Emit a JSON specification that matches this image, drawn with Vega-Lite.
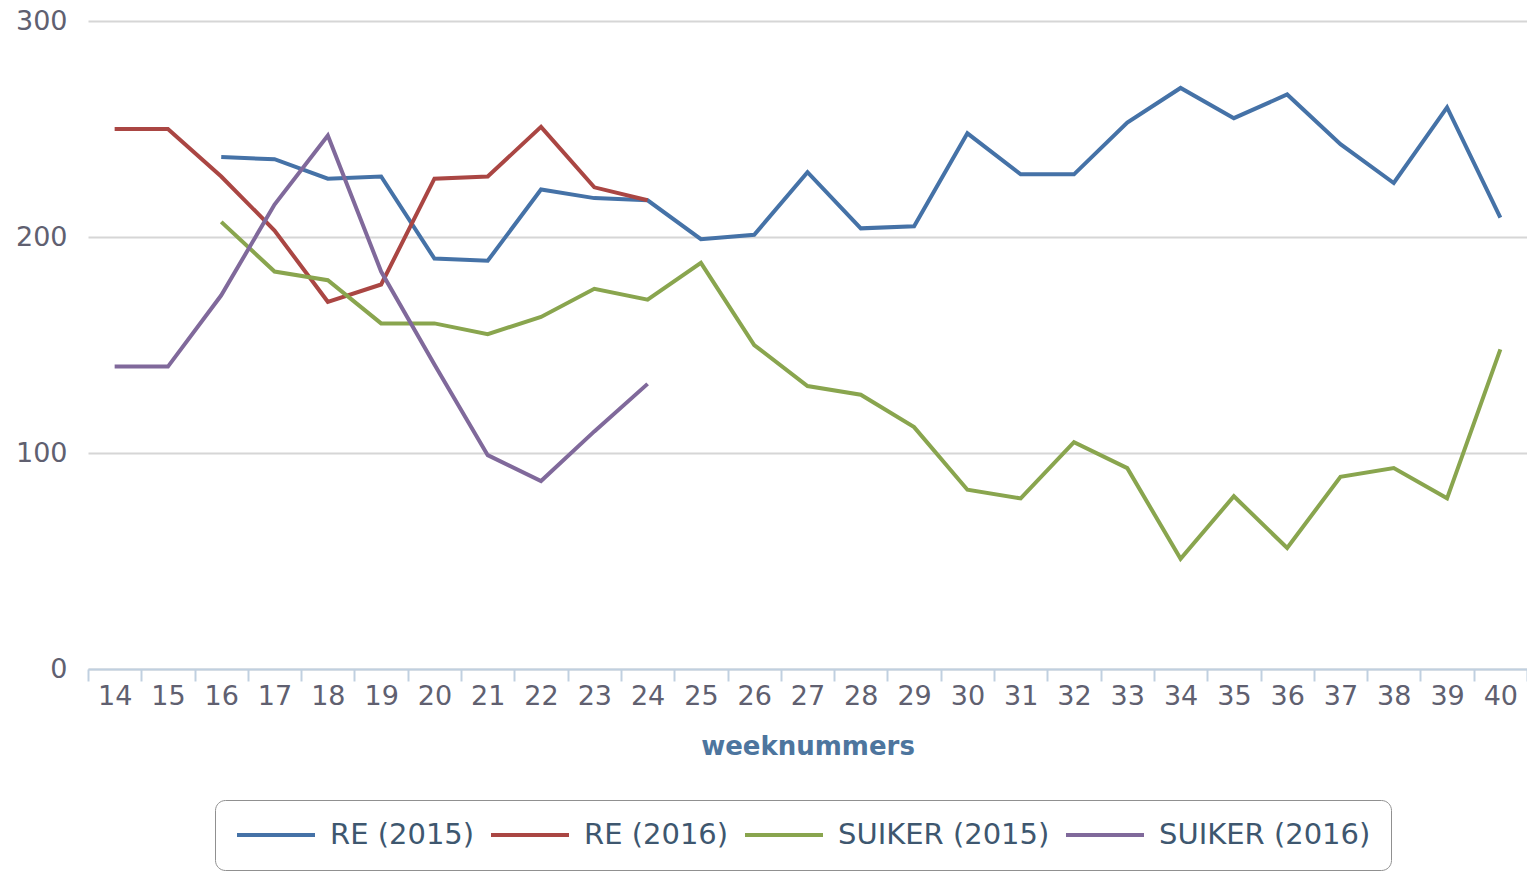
{
  "$schema": "https://vega.github.io/schema/vega-lite/v6.json",
  "width": 1439,
  "height": 648,
  "autosize": {"type": "none"},
  "padding": {"left": 88, "top": 21, "right": 0, "bottom": 203},
  "background": "white",
  "config": {
    "view": {"stroke": null},
    "font": "DejaVu Sans"
  },
  "data": {
    "values": [
      {"week": 16, "serie": "RE (2015)", "value": 237},
      {"week": 17, "serie": "RE (2015)", "value": 236},
      {"week": 18, "serie": "RE (2015)", "value": 227},
      {"week": 19, "serie": "RE (2015)", "value": 228},
      {"week": 20, "serie": "RE (2015)", "value": 190},
      {"week": 21, "serie": "RE (2015)", "value": 189},
      {"week": 22, "serie": "RE (2015)", "value": 222},
      {"week": 23, "serie": "RE (2015)", "value": 218},
      {"week": 24, "serie": "RE (2015)", "value": 217},
      {"week": 25, "serie": "RE (2015)", "value": 199},
      {"week": 26, "serie": "RE (2015)", "value": 201},
      {"week": 27, "serie": "RE (2015)", "value": 230},
      {"week": 28, "serie": "RE (2015)", "value": 204},
      {"week": 29, "serie": "RE (2015)", "value": 205},
      {"week": 30, "serie": "RE (2015)", "value": 248},
      {"week": 31, "serie": "RE (2015)", "value": 229},
      {"week": 32, "serie": "RE (2015)", "value": 229},
      {"week": 33, "serie": "RE (2015)", "value": 253},
      {"week": 34, "serie": "RE (2015)", "value": 269},
      {"week": 35, "serie": "RE (2015)", "value": 255},
      {"week": 36, "serie": "RE (2015)", "value": 266},
      {"week": 37, "serie": "RE (2015)", "value": 243},
      {"week": 38, "serie": "RE (2015)", "value": 225},
      {"week": 39, "serie": "RE (2015)", "value": 260},
      {"week": 40, "serie": "RE (2015)", "value": 209},
      {"week": 14, "serie": "RE (2016)", "value": 250},
      {"week": 15, "serie": "RE (2016)", "value": 250},
      {"week": 16, "serie": "RE (2016)", "value": 228},
      {"week": 17, "serie": "RE (2016)", "value": 203},
      {"week": 18, "serie": "RE (2016)", "value": 170},
      {"week": 19, "serie": "RE (2016)", "value": 178},
      {"week": 20, "serie": "RE (2016)", "value": 227},
      {"week": 21, "serie": "RE (2016)", "value": 228},
      {"week": 22, "serie": "RE (2016)", "value": 251},
      {"week": 23, "serie": "RE (2016)", "value": 223},
      {"week": 24, "serie": "RE (2016)", "value": 217},
      {"week": 16, "serie": "SUIKER (2015)", "value": 207},
      {"week": 17, "serie": "SUIKER (2015)", "value": 184},
      {"week": 18, "serie": "SUIKER (2015)", "value": 180},
      {"week": 19, "serie": "SUIKER (2015)", "value": 160},
      {"week": 20, "serie": "SUIKER (2015)", "value": 160},
      {"week": 21, "serie": "SUIKER (2015)", "value": 155},
      {"week": 22, "serie": "SUIKER (2015)", "value": 163},
      {"week": 23, "serie": "SUIKER (2015)", "value": 176},
      {"week": 24, "serie": "SUIKER (2015)", "value": 171},
      {"week": 25, "serie": "SUIKER (2015)", "value": 188},
      {"week": 26, "serie": "SUIKER (2015)", "value": 150},
      {"week": 27, "serie": "SUIKER (2015)", "value": 131},
      {"week": 28, "serie": "SUIKER (2015)", "value": 127},
      {"week": 29, "serie": "SUIKER (2015)", "value": 112},
      {"week": 30, "serie": "SUIKER (2015)", "value": 83},
      {"week": 31, "serie": "SUIKER (2015)", "value": 79},
      {"week": 32, "serie": "SUIKER (2015)", "value": 105},
      {"week": 33, "serie": "SUIKER (2015)", "value": 93},
      {"week": 34, "serie": "SUIKER (2015)", "value": 51},
      {"week": 35, "serie": "SUIKER (2015)", "value": 80},
      {"week": 36, "serie": "SUIKER (2015)", "value": 56},
      {"week": 37, "serie": "SUIKER (2015)", "value": 89},
      {"week": 38, "serie": "SUIKER (2015)", "value": 93},
      {"week": 39, "serie": "SUIKER (2015)", "value": 79},
      {"week": 40, "serie": "SUIKER (2015)", "value": 148},
      {"week": 14, "serie": "SUIKER (2016)", "value": 140},
      {"week": 15, "serie": "SUIKER (2016)", "value": 140},
      {"week": 16, "serie": "SUIKER (2016)", "value": 173},
      {"week": 17, "serie": "SUIKER (2016)", "value": 215},
      {"week": 18, "serie": "SUIKER (2016)", "value": 247},
      {"week": 19, "serie": "SUIKER (2016)", "value": 184},
      {"week": 20, "serie": "SUIKER (2016)", "value": 141},
      {"week": 21, "serie": "SUIKER (2016)", "value": 99},
      {"week": 22, "serie": "SUIKER (2016)", "value": 87},
      {"week": 23, "serie": "SUIKER (2016)", "value": 110},
      {"week": 24, "serie": "SUIKER (2016)", "value": 132}
    ]
  },
  "mark": {"type": "line", "strokeWidth": 4, "interpolate": "linear"},
  "encoding": {
    "x": {
      "field": "week",
      "type": "ordinal",
      "scale": {
        "type": "band",
        "paddingInner": 0,
        "paddingOuter": 0,
        "domain": [14,15,16,17,18,19,20,21,22,23,24,25,26,27,28,29,30,31,32,33,34,35,36,37,38,39,40]
      },
      "axis": {
        "title": "weeknummers",
        "titleFont": "DejaVu Sans",
        "titleFontSize": 26,
        "titleFontWeight": "bold",
        "titleColor": "#4d759e",
        "titlePadding": 24,
        "labelAngle": 0,
        "labelFont": "DejaVu Sans",
        "labelFontSize": 27,
        "labelColor": "#606070",
        "labelPadding": 2,
        "tickBand": "extent",
        "tickSize": 12,
        "tickWidth": 2,
        "tickColor": "#C0D0E0",
        "domainColor": "#C0D0E0",
        "domainWidth": 2,
        "grid": false
      }
    },
    "y": {
      "field": "value",
      "type": "quantitative",
      "scale": {"domain": [0, 300], "nice": false},
      "axis": {
        "title": null,
        "values": [0, 100, 200, 300],
        "domain": false,
        "ticks": false,
        "grid": true,
        "gridColor": "#D6D6D6",
        "gridWidth": 2,
        "labelFont": "DejaVu Sans",
        "labelFontSize": 27,
        "labelColor": "#606070",
        "labelPadding": 21
      }
    },
    "color": {
      "field": "serie",
      "type": "nominal",
      "scale": {
        "domain": ["RE (2015)", "RE (2016)", "SUIKER (2015)", "SUIKER (2016)"],
        "range": ["#4572A7", "#AA4643", "#89A54E", "#80699B"]
      },
      "legend": {
        "title": null,
        "orient": "none",
        "direction": "horizontal",
        "legendX": 127,
        "legendY": 779,
        "symbolType": "M-1,0H5",
        "symbolSize": 676,
        "symbolStrokeWidth": 4,
        "labelOffset": 65,
        "labelLimit": 500,
        "labelFont": "DejaVu Sans",
        "labelFontSize": 29,
        "labelColor": "#3E576F",
        "columnPadding": 8,
        "padding": 20,
        "strokeColor": "#909090",
        "cornerRadius": 10
      }
    }
  }
}
